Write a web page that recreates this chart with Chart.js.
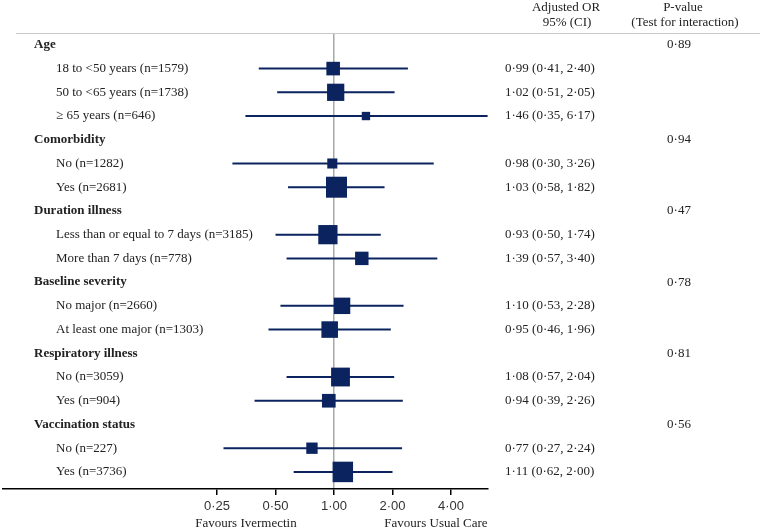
<!DOCTYPE html>
<html>
<head>
<meta charset="utf-8">
<script src="https://cdn.jsdelivr.net/npm/chart.js@4/dist/chart.umd.min.js"></script>
<style>
  body { margin: 0; background: #fff; }
</style>
</head>
<body>
<canvas id="forest" width="760" height="531"></canvas>
<script>
// subgroup data
var groups = ['Age', 'Comorbidity', 'Duration illness', 'Baseline severity', 'Respiratory illness', 'Vaccination status'];
var pValues = [0.89, 0.94, 0.47, 0.78, 0.81, 0.56];

var subgroups = [
    '18 to <50 years (n=1579)', '50 to <65 years (n=1738)', '\u2265 65 years (n=646)',
    'No (n=1282)', 'Yes (n=2681)',
    'Less than or equal to 7 days (n=3185)', 'More than 7 days (n=778)',
    'No major (n=2660)', 'At least one major (n=1303)',
    'No (n=3059)', 'Yes (n=904)',
    'No (n=227)', 'Yes (n=3736)'
];
var groupOf = [0, 0, 0, 1, 1, 2, 2, 3, 3, 4, 4, 5, 5];
var oddsRatio = [0.99, 1.02, 1.46, 0.98, 1.03, 0.93, 1.39, 1.10, 0.95, 1.08, 0.94, 0.77, 1.11];
var ciLow = [0.41, 0.51, 0.35, 0.30, 0.58, 0.50, 0.57, 0.53, 0.46, 0.57, 0.39, 0.27, 0.62];
var ciHigh = [2.40, 2.05, 6.17, 3.26, 1.82, 1.74, 3.40, 2.28, 1.96, 2.04, 2.26, 2.24, 2.00];

var xTicks = [0.25, 0.5, 1, 2, 4];

var navy = '#0b2460';
var serif = '"Liberation Serif", "Times New Roman", serif';

function fmt(v) {
    return v.toFixed(2).replace('.', '\u00b7');
}

// build the rows: one header row per group, followed by its subgroups
var rows = [];
var g = -1;
for (var i = 0; i < subgroups.length; i++) {
    if (groupOf[i] !== g) {
        g = groupOf[i];
        rows.push({ header: true, label: groups[g], p: pValues[g] });
    }
    rows.push({ header: false, label: subgroups[i], idx: i });
}

var ciData = [];
var markData = [];
var markSize = [];
rows.forEach(function (r, y) {
    if (r.header) return;
    var i = r.idx;
    ciData.push({ x: ciLow[i], y: y }, { x: ciHigh[i], y: y }, { x: null, y: null });
    markData.push({ x: oddsRatio[i], y: y });
    // box size from precision (narrower CI -> bigger box)
    var side = 24 / Math.log(ciHigh[i] / ciLow[i]);
    markSize.push(side / Math.SQRT2);
});

var textPlugin = {
    id: 'forestText',
    afterDraw: function (chart) {
        var ctx = chart.ctx;
        var ys = chart.scales.y;
        ctx.save();
        ctx.fillStyle = '#222';
        ctx.textBaseline = 'middle';

        // column headers
        ctx.font = '13px ' + serif;
        ctx.textAlign = 'center';
        ctx.fillText('Adjusted OR', 566, 8);
        ctx.fillText('95% (CI)', 567, 23);
        ctx.fillText('P-value', 683, 8);
        ctx.fillText('(Test for interaction)', 685, 23);

        // header separator
        ctx.strokeStyle = '#c8c8c8';
        ctx.lineWidth = 1;
        ctx.beginPath();
        ctx.moveTo(16, 33.5);
        ctx.lineTo(760, 33.5);
        ctx.stroke();

        rows.forEach(function (r, y) {
            var py = ys.getPixelForValue(y);
            if (r.header) {
                ctx.font = 'bold 13px ' + serif;
                ctx.textAlign = 'left';
                ctx.fillText(r.label, 34, py);
                ctx.font = '13px ' + serif;
                ctx.textAlign = 'center';
                ctx.fillText(fmt(r.p), 679, py);
            } else {
                var i = r.idx;
                ctx.font = '13px ' + serif;
                ctx.textAlign = 'left';
                ctx.fillText(r.label, 56, py);
                ctx.fillText(fmt(oddsRatio[i]) + ' (' + fmt(ciLow[i]) + ', ' + fmt(ciHigh[i]) + ')', 505, py);
            }
        });

        // axis captions
        ctx.font = '13px ' + serif;
        ctx.textAlign = 'center';
        ctx.fillText('Favours Ivermectin', 246, 524);
        ctx.fillText('Favours Usual Care', 436, 524);
        ctx.restore();
    }
};

new Chart(document.getElementById('forest'), {
    type: 'scatter',
    data: {
        datasets: [{
            type: 'line',
            data: ciData,
            borderColor: navy,
            borderWidth: 2,
            pointRadius: 0,
            spanGaps: false,
            order: 2
        }, {
            data: markData,
            pointStyle: 'rect',
            pointRadius: markSize,
            pointHoverRadius: markSize,
            backgroundColor: navy,
            borderColor: navy,
            borderWidth: 0,
            order: 1
        }]
    },
    options: {
        responsive: false,
        animation: false,
        layout: {
            autoPadding: false,
            padding: { left: 3, right: 272, top: 33, bottom: 0 }
        },
        plugins: {
            legend: { display: false },
            tooltip: { enabled: false }
        },
        scales: {
            x: {
                type: 'logarithmic',
                min: 0.0198,
                max: 6.2,
                afterBuildTicks: function (scale) {
                    scale.ticks = xTicks.map(function (v) { return { value: v }; });
                },
                afterFit: function (scale) {
                    scale.height = 42;
                },
                ticks: {
                    autoSkip: false,
                    maxRotation: 0,
                    padding: 4,
                    color: '#333',
                    font: { family: '"Liberation Sans", Arial, sans-serif', size: 13 },
                    callback: function (v) { return fmt(Number(v)); }
                },
                grid: {
                    color: function (c) {
                        return c.tick && c.tick.value === 1 ? '#a8a8a8' : 'rgba(0,0,0,0)';
                    },
                    lineWidth: 1.5,
                    tickColor: '#000',
                    tickLength: 6
                },
                border: { display: true, color: '#000', width: 1.5 }
            },
            y: {
                type: 'linear',
                display: false,
                reverse: true,
                min: -0.5,
                max: rows.length - 1 + 0.72
            }
        }
    },
    plugins: [textPlugin]
});
</script>
</body>
</html>
